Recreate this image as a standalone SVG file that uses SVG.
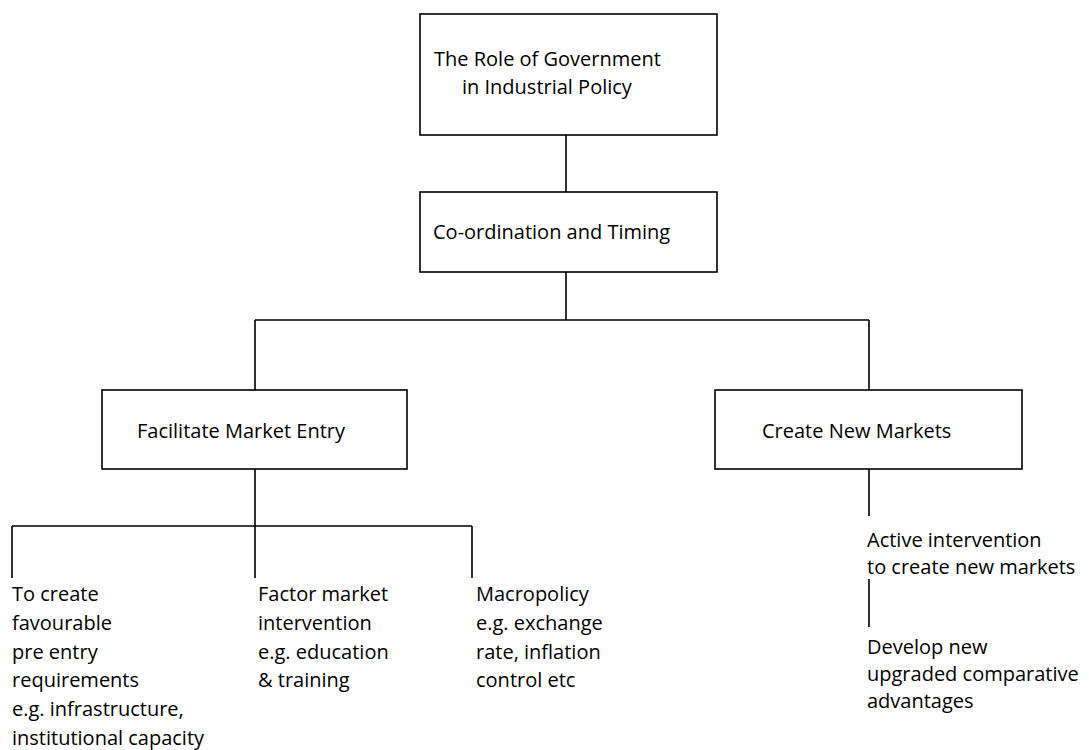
<svg xmlns="http://www.w3.org/2000/svg" width="1089" height="750" viewBox="0 0 1089 750">
<style>
.box{fill:#fff;stroke:#000;stroke-width:1.6}
.ln{stroke:#000;stroke-width:1.6;fill:none}
text{font-family:"Open Sans","DejaVu Sans",sans-serif;font-size:20px;fill:#000}
</style>
<rect width="1089" height="750" fill="#fff"/>
<g id="connectors">
<path class="ln" d="M566 135V192M566 272V320M255 320H869M255 320V390M869 320V390"/>
<path class="ln" d="M255 469V526M12 526H472M12 526V578M255 526V578M472 526V578"/>
<path class="ln" d="M869 469V516M869 579V627"/>
</g>
<g id="n-root"><rect class="box" x="420" y="14" width="297" height="121"/>
<text x="434" y="66">The Role of Government</text><text x="462" y="94">in Industrial Policy</text></g>
<g id="n-coord"><rect class="box" x="420" y="192" width="297" height="80"/>
<text x="433" y="239">Co-ordination and Timing</text></g>
<g id="n-entry"><rect class="box" x="102" y="390" width="305" height="79"/>
<text x="137" y="438">Facilitate Market Entry</text></g>
<g id="n-new"><rect class="box" x="715" y="390" width="307" height="79"/>
<text x="762" y="438">Create New Markets</text></g>
<g id="n-pre"><text x="12" y="601">To create</text><text x="12" y="630">favourable</text><text x="12" y="659">pre entry</text><text x="12" y="687">requirements</text><text x="12" y="716">e.g. infrastructure,</text><text x="12" y="745">institutional capacity</text></g>
<g id="n-factor"><text x="258" y="601">Factor market</text><text x="258" y="630">intervention</text><text x="258" y="659">e.g. education</text><text x="258" y="687">&amp; training</text></g>
<g id="n-macro"><text x="476" y="601">Macropolicy</text><text x="476" y="630">e.g. exchange</text><text x="476" y="659">rate, inflation</text><text x="476" y="687">control etc</text></g>
<g id="n-active"><text x="867" y="547">Active intervention</text><text x="867" y="574">to create new markets</text></g>
<g id="n-develop"><text x="867" y="654">Develop new</text><text x="867" y="681">upgraded comparative</text><text x="867" y="708">advantages</text></g>
</svg>
